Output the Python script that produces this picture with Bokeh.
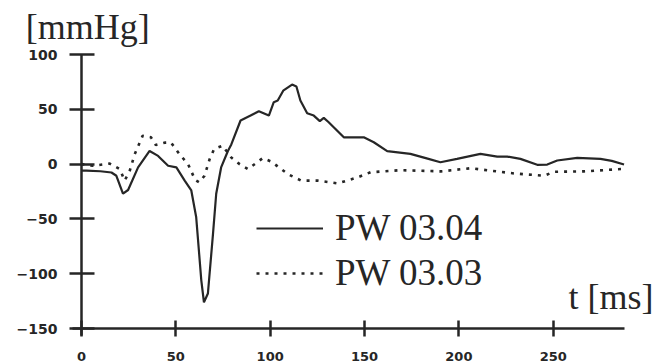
from bokeh.plotting import figure
from bokeh.models import FixedTicker, Label, Legend, LegendItem, Range1d, LinearAxis
from bokeh.embed import file_html
from bokeh.resources import INLINE

# PW 03.04 (solid)
solid_t = [0, 2.6, 10, 15.9, 18.5, 22, 24.7, 30, 36.1, 40.6, 45.9, 50.3, 54.7, 58.2,
           60.8, 63.5, 64.9, 67, 69.7, 71.4, 74, 77.6, 79.4, 84.3, 89.6, 94, 99.3,
           101.9, 104, 106.9, 111.6, 113.9, 116, 119.6, 123.1, 126.3, 128.4, 131,
           139, 149.6, 154.9, 162, 174.3, 183.4, 190.2, 199, 211.4, 220.3, 225.6,
           232.6, 241.5, 246.8, 252.1, 262.7, 275, 281, 287.5]
solid_v = [-6, -6, -6.5, -7.6, -10.6, -27, -23.6, -3, 12, 7.5, -1.5, -3, -15, -24,
           -48.5, -106, -126, -118, -63.6, -27, -3, 12, 18, 39.8, 44.3, 48.3, 44.3,
           56.5, 58, 67, 72.6, 70.8, 58, 46.4, 44.3, 39.2, 42.2, 38.2,
           24.5, 24.5, 20, 11.8, 9.4, 5, 1.7, 4.8, 9.4, 6.9, 6.9,
           4.8, -0.6, -0.4, 3.3, 5.7, 4.8, 3, -0.3]

# PW 03.03 (dotted)
dotted_t = [0, 6.2, 15, 20.3, 22.9, 25.6, 28.2, 32.4, 36.8, 39.4, 44.1, 47.4, 52, 56.5,
            60.2, 62.4, 65.2, 67.9, 70.3, 74.8, 79.4, 83.8, 88.2, 96.1, 100.5, 109.3,
            116.4, 125.2, 135.8, 146.4, 153.2, 169.3, 190.5, 206.3, 216.9, 229.3,
            245.1, 250.4, 266.3, 287.5]
dotted_v = [0, -1.5, 0.5, -4.5, -15, -6, 9, 25.8, 24.5, 17.5, 19.6, 19.8, 9, 0,
            -14.3, -16.6, -10.6, 4.5, 13.8, 16.8, 6, 0, -4.5, 5.5, 2.4, -9,
            -15, -15, -17.6, -12, -7.4, -5.5, -6.6, -3.7, -6, -8.5,
            -10.6, -7, -6.6, -4.3]

x_ticks = [0, 50, 100, 150, 200, 250]
y_ticks = [-150, -100, -50, 0, 50, 100]
series_names = ["PW 03.04", "PW 03.03"]
y_unit = "[mmHg]"
x_unit = "t [ms]"

ink = "#262626"

p = figure(width=656, height=364, output_backend="svg", toolbar_location=None,
           x_range=Range1d(-42.9, 304.7), y_range=Range1d(-182.8, 149.3),
           x_axis_location=None, y_axis_location=None,
           min_border_left=0, min_border_right=0, min_border_top=0,
           min_border_bottom=0)
p.grid.visible = False
p.outline_line_color = None
p.background_fill_color = "white"
p.border_fill_color = "white"

r1 = p.line(solid_t, solid_v, line_color=ink, line_width=2.2)
r2 = p.line(dotted_t, dotted_v, line_color=ink, line_width=2.6, line_dash="3 6")

xaxis = LinearAxis(fixed_location=-150, bounds=(-5, 287.5),
                   ticker=FixedTicker(ticks=x_ticks))
yaxis = LinearAxis(fixed_location=0, bounds=(-156, 100),
                   ticker=FixedTicker(ticks=y_ticks))
for ax in (xaxis, yaxis):
    ax.axis_line_width = 2.5
    ax.axis_line_color = ink
    ax.major_tick_line_width = 2.5
    ax.major_tick_line_color = ink
    ax.minor_tick_line_color = None
    ax.major_label_text_font = "DejaVu Sans"
    ax.major_label_text_font_style = "bold"
    ax.major_label_text_color = ink
xaxis.major_tick_in = 8
xaxis.major_tick_out = 8
xaxis.major_label_standoff = 15
xaxis.major_label_text_font_size = "13px"
yaxis.major_tick_in = 13
yaxis.major_tick_out = 12
yaxis.major_label_standoff = 12
yaxis.major_label_text_font_size = "14px"
p.add_layout(xaxis, "below")
p.add_layout(yaxis, "left")

p.add_layout(Label(x=-29.5, y=125.5, text=y_unit, text_font="Liberation Serif",
                   text_font_size="36px", text_color=ink, text_baseline="alphabetic"))
p.add_layout(Label(x=303.1, y=-120.8, text=x_unit, text_font="Liberation Serif",
                   text_font_size="36px", text_color=ink, text_align="right",
                   text_baseline="alphabetic"))

legend = Legend(items=[LegendItem(label=series_names[0], renderers=[r1]),
                       LegendItem(label=series_names[1], renderers=[r2])],
                location=(256, 70), orientation="vertical",
                label_text_font="Liberation Serif", label_text_font_size="37px",
                label_text_color=ink, glyph_width=67, glyph_height=30,
                label_standoff=12, spacing=2, padding=0, margin=0,
                border_line_color=None, background_fill_alpha=0)
p.add_layout(legend)

open("out.html", "w").write(file_html(p, INLINE))
